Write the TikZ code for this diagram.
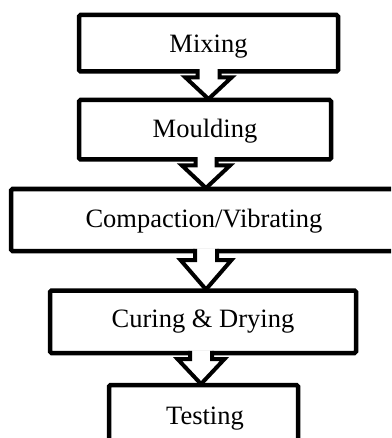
\documentclass[tikz,border=0pt]{standalone}
\usepackage{fontspec}
\setmainfont{Liberation Serif}
\usetikzlibrary{calc}
\tikzset{
  box/.style={draw=black, line width=4.5pt, fill=white, rounded corners=1.5pt, outer sep=0pt, inner sep=0pt},
  lbl/.style={anchor=base, inner sep=0pt, font=\fontsize{26.5}{30}\selectfont},
  arrline/.style={draw=black, line width=4pt, line join=miter},
}
\newcommand{\blkarrow}[5]{% #1 shaft-top coord, #2 tip coord, #3 shaft half width, #4 head half width, #5 head start
  \fill[white] ($(#1)+(-#3,-2.6)$) -- ($(#1)+(-#3,#5)$) -- ($(#1)+(-#4,#5)$) -- (#2) -- ($(#1)+(#4,#5)$) -- ($(#1)+(#3,#5)$) -- ($(#1)+(#3,-2.6)$) -- cycle;
  \draw[arrline] ($(#1)+(-#3,-2.25)$) -- ($(#1)+(-#3,#5)$) -- ($(#1)+(-#4,#5)$) -- (#2) -- ($(#1)+(#4,#5)$) -- ($(#1)+(#3,#5)$) -- ($(#1)+(#3,-2.25)$);
}
\begin{document}
\begin{tikzpicture}[x=1pt,y=-1pt]
\useasboundingbox (0,0) rectangle (391,438);
\clip (0,0) rectangle (391,438);
% boxes
\node[box, minimum width=259pt, minimum height=56.5pt] (b1) at (208.5,43.25) {};
\node[box, minimum width=252pt, minimum height=59.5pt] (b2) at (205,129.75) {};
\node[box, minimum width=400pt, minimum height=62pt] (b3) at (211,220) {};
\node[box, minimum width=306pt, minimum height=62.5pt] (b4) at (203,321.75) {};
\node[box, minimum width=189pt, minimum height=80pt] (b5) at (203.5,425) {};
% labels
\node[lbl] (t1) at (208.5,53) {Mixing};
\node[lbl] (t2) at (205,137.5) {Moulding};
\node[lbl] (t3) at (204,227) {Compaction/Vibrating};
\node[lbl] (t4) at (203,327) {Curing \& Drying};
\node[lbl] (t5) at (205,424) {Testing};
% arrows
\coordinate (s1) at ($(b1.south)+(0,0)$);
\coordinate (e1) at ($(s1 |- b2.north)+(0,-1)$);
\coordinate (s2) at ($(b2.south)+(1,0)$);
\coordinate (e2) at ($(s2 |- b3.north)+(0,-1)$);
\coordinate (s3) at ($(b3.south)+(-5,0)$);
\coordinate (e3) at ($(s3 |- b4.north)+(0,-1)$);
\coordinate (s4) at ($(b4.south)+(-2,0)$);
\coordinate (e4) at ($(s4 |- b5.north)+(0,-1)$);
\blkarrow{s1}{e1}{11}{23}{6}
\blkarrow{s2}{e2}{10.5}{24}{6}
\blkarrow{s3}{e3}{11}{25.5}{9}
\blkarrow{s4}{e4}{11}{23.5}{6}
\end{tikzpicture}
\end{document}
